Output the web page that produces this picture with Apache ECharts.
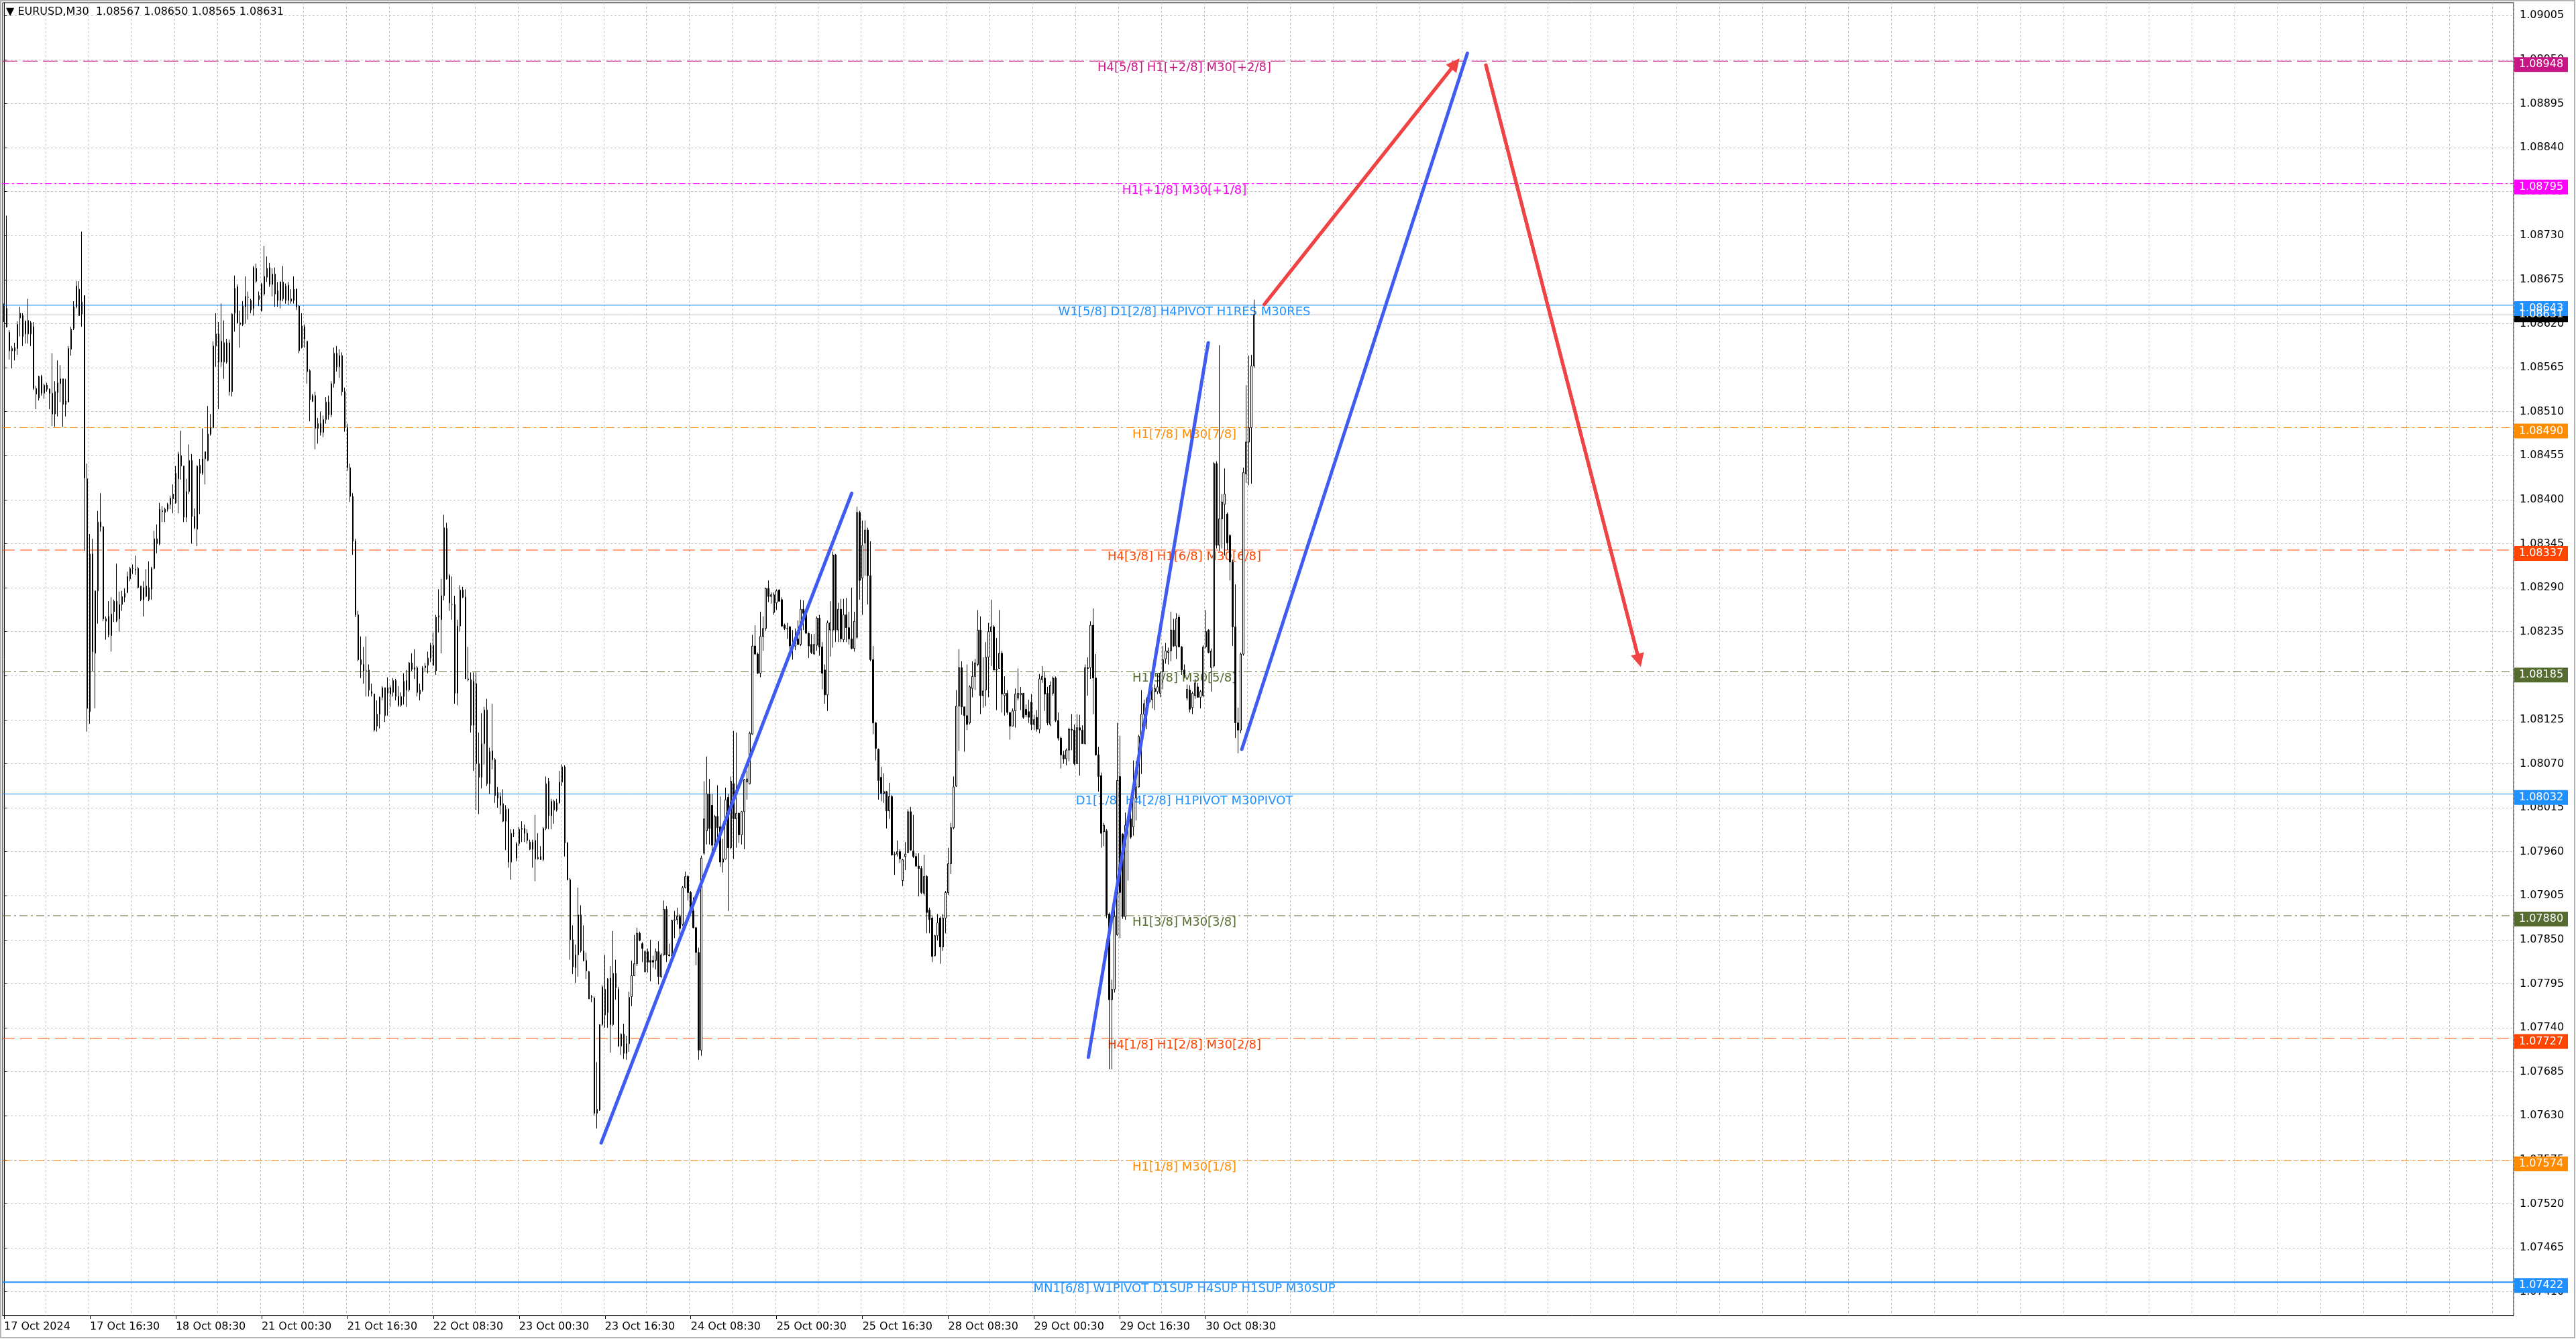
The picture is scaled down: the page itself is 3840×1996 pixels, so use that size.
<!DOCTYPE html>
<html>
<head>
<meta charset="utf-8">
<title>EURUSD,M30</title>
<script src="https://cdn.jsdelivr.net/npm/echarts@6/dist/echarts.min.js"></script>
<style>
html, body { margin: 0; padding: 0; background: #fff; }
#main { width: 3840px; height: 1996px; }
</style>
</head>
<body>
<div id="main"></div>
<script>
// prices are stored in points (0.00001) above 1.08000, bars as [open, high, low, close]
const BASE = 1.08;
const POINT = 0.00001;

const oct17 = [
  [630,645,622,639],[639,755,615,616],[609,612,575,586],[586,592,564,589],[586,596,574,590],[589,623,581,619],
  [627,641,604,633],[630,633,592,604],[607,624,595,623],[624,651,595,607],[607,623,592,621],[616,622,537,539],
  [539,542,513,532],[527,555,524,554],[554,556,530,533],[533,545,526,543],[543,546,535,538],[538,539,513,533],
  [507,583,492,533],[535,548,491,507],[534,574,504,546],[545,568,522,551],[551,551,491,519],[519,551,504,523],
  [522,592,522,589],[588,616,580,613],[614,648,612,641],[641,673,639,667],[663,673,630,630],[632,735,616,647],
  [655,655,336,427],[426,445,110,139],[135,357,120,332],[332,351,186,210],[208,286,139,286],[286,386,245,372],
  [372,408,360,366],[366,367,248,251],[251,254,225,248],[254,273,228,231],[230,278,210,257],[260,275,247,273],
  [273,320,247,249],[251,285,235,269],[269,286,261,279],[278,289,272,283],[284,310,283,304]
];
const oct18 = [
  [301,316,298,314],[314,319,307,314],[313,330,306,312],[314,316,289,290],[292,292,273,275],[275,298,254,290],
  [292,313,278,279],[275,323,273,290],[288,316,275,314],[314,361,313,351],[351,369,333,345],[345,396,343,388],
  [386,392,372,385],[384,390,372,388],[388,396,385,394],[394,405,388,402],[407,419,383,401],[396,442,395,433],
  [426,460,383,457],[455,486,425,442],[442,442,372,378],[378,426,372,410],[410,469,407,449],[449,457,345,379],
  [379,389,363,365],[363,443,342,442],[443,451,382,433],[433,489,431,451],[451,460,419,460],[449,517,448,482],
  [482,507,480,490],[490,598,489,592],[592,633,566,607],[607,622,513,572],[572,645,566,598],[596,624,551,572],
  [572,601,570,596],[596,600,530,535],[535,633,529,632],[633,680,610,664],[666,669,620,621],[621,636,590,619],
  [619,648,617,642],[641,679,620,654],[653,660,625,653],[649,651,633,637],[639,692,630,690],[689,695,671,673]
];
const oct21 = [
  [650,660,642,655],[636,671,635,669],[657,717,655,679],[678,704,672,689],[690,696,666,669],[669,689,654,682],
  [682,690,641,657],[661,672,641,649],[649,673,639,672],[672,692,648,651],[649,670,645,667],[668,672,643,649],
  [648,663,645,651],[649,679,645,663],[663,664,637,641],[642,643,583,586],[590,633,589,617],[616,619,590,601],
  [598,598,545,560],[561,563,498,525],[523,532,522,530],[530,535,463,489],[489,502,470,495],[495,510,480,484],
  [484,505,478,500],[500,528,495,522],[522,530,500,506],[506,548,503,545],[545,590,540,583],[583,592,560,566],
  [566,588,552,580],[580,584,530,535],[535,540,485,490],[490,495,436,440],[440,445,397,404],[404,408,331,348],
  [348,351,253,256],[256,261,198,200],[200,229,177,194],[194,216,170,186],[186,229,154,186],[187,194,154,162],
  [160,170,154,158],[157,157,110,112],[117,149,110,132],[132,154,114,153],[153,167,149,165],[165,165,122,130]
];
const oct22 = [
  [158,178,130,165],[165,168,141,157],[159,177,154,174],[174,176,149,154],[154,167,141,143],[143,159,141,154],
  [154,183,144,173],[174,187,141,162],[162,197,160,196],[196,208,186,188],[188,213,176,190],[190,192,154,159],
  [157,170,149,162],[162,192,160,190],[190,196,186,192],[193,210,183,202],[202,221,197,218],[218,234,192,193],
  [186,256,181,253],[253,288,234,255],[250,301,208,280],[280,381,274,365],[364,371,300,301],[305,307,261,271],
  [269,304,250,269],[269,280,145,158],[158,250,143,242],[242,293,235,287],[287,291,277,278],[278,288,176,176],
  [176,216,173,175],[175,184,109,118],[118,184,61,173],[170,184,12,70],[70,109,7,53],[53,133,39,95],
  [95,141,69,137],[137,151,42,45],[45,90,32,85],[86,145,63,75],[75,77,21,30],[34,41,15,27],
  [29,34,7,18],[20,38,-3,-2],[-2,18,-38,13],[13,14,-60,-53],[-53,-12,-75,-17],[-17,-12,-22,-17]
];
const oct23 = [
  [-48,-28,-52,-30],[-30,-9,-33,-12],[-12,-2,-28,-11],[-11,-6,-28,-17],[-17,-12,-30,-26],[-28,-25,-38,-37],
  [-37,-25,-60,-28],[-26,6,-77,-49],[-49,-17,-50,-47],[-46,-33,-50,-50],[-50,-9,-52,-11],[-11,54,-13,45],
  [48,52,-12,5],[5,26,-12,23],[23,25,-5,12],[12,26,10,21],[21,61,20,47],[47,69,42,66],
  [66,68,-46,-29],[-29,-28,-76,-75],[-75,-73,-175,-150],[-150,-132,-193,-184],[-185,-156,-204,-169],[-169,-85,-196,-119],
  [-119,-107,-166,-164],[-164,-132,-177,-176],[-176,-166,-199,-189],[-190,-189,-224,-224],[-221,-219,-228,-222],[-223,-221,-370,-367],
  [-367,-303,-386,-362],[-363,-257,-364,-256],[-256,-207,-258,-209],[-212,-169,-260,-244],[-241,-198,-260,-199],[-198,-183,-291,-256],
  [-256,-139,-258,-192],[-192,-175,-225,-210],[-212,-209,-284,-283],[-283,-267,-294,-268],[-268,-255,-299,-292],[-292,-270,-300,-280],
  [-280,-215,-290,-222],[-221,-176,-233,-195],[-195,-144,-195,-180],[-180,-135,-183,-142],[-142,-140,-152,-151],[-155,-153,-178,-161]
];
const oct24 = [
  [-190,-163,-191,-165],[-165,-161,-191,-178],[-176,-150,-202,-178],[-176,-170,-185,-178],[-176,-161,-187,-165],[-165,-152,-206,-196],
  [-196,-167,-198,-169],[-169,-101,-170,-112],[-112,-108,-178,-169],[-169,-155,-171,-170],[-170,-125,-175,-126],[-126,-114,-148,-125],
  [-125,-110,-131,-121],[-121,-118,-148,-136],[-131,-83,-133,-85],[-85,-65,-86,-71],[-71,-69,-101,-91],[-91,-89,-118,-115],
  [-114,-97,-136,-135],[-135,-134,-182,-166],[-166,-160,-300,-288],[-288,-45,-295,-48],[-42,48,-44,1],[-14,79,-31,32],
  [32,51,-31,-11],[18,32,-44,-32],[-32,6,-33,4],[4,43,-29,-10],[-9,29,-59,-53],[-53,-24,-66,-49],
  [-49,40,-50,25],[28,32,-114,-35],[-35,54,-37,48],[45,111,-49,1],[1,109,-35,8],[8,9,-29,-19],
  [-19,11,-31,10],[10,51,-37,50],[47,61,25,51],[45,110,44,108],[107,231,106,217],[217,243,206,207],
  [207,209,182,183],[183,260,178,229],[229,254,211,239],[239,290,236,289],[289,299,272,279],[279,284,270,281]
];
const oct25 = [
  [259,284,256,281],[271,288,262,286],[287,288,273,273],[275,278,241,242],[243,245,237,239],[239,246,226,239],
  [241,242,212,217],[217,237,200,218],[217,239,212,226],[226,249,219,219],[219,275,217,263],[263,274,237,258],
  [258,259,232,233],[233,234,202,217],[219,232,207,209],[207,232,206,219],[218,254,211,252],[252,256,205,216],
  [216,222,163,183],[187,194,145,156],[156,249,136,246],[237,273,204,246],[237,335,215,331],[331,332,222,237],
  [237,271,222,263],[263,276,222,226],[225,276,222,256],[256,277,222,240],[240,260,219,226],[226,290,213,214],
  [214,260,210,248],[228,391,226,384],[384,386,275,299],[302,374,256,343],[346,374,305,362],[362,365,269,305],
  [305,348,198,200],[200,217,107,121],[121,122,74,89],[88,89,25,49],[53,66,23,33],[33,58,21,35],
  [35,36,-11,11],[11,46,1,29],[29,31,-45,-44],[-44,-40,-69,-43],[-43,-26,-46,-40],[-40,-37,-54,-49]
];
const oct28 = [
  [-76,-49,-83,-50],[-46,-28,-63,-43],[-41,13,-42,10],[10,16,-39,-38],[-39,6,-48,-46],[-46,-42,-59,-58],
  [-58,-42,-96,-61],[-61,-58,-93,-91],[-92,-44,-95,-71],[-71,-69,-142,-116],[-113,-110,-142,-125],[-123,-121,-178,-171],
  [-170,-144,-171,-145],[-145,-118,-151,-129],[-123,-121,-180,-159],[-159,-118,-164,-123],[-123,-89,-142,-91],[-91,-35,-94,-55],
  [-55,-4,-68,-10],[-10,54,-12,41],[42,162,41,142],[142,213,86,190],[190,198,131,141],[141,141,85,130],
  [130,194,112,119],[121,168,119,166],[164,198,153,179],[179,201,162,196],[194,262,192,237],[237,254,132,155],
  [155,203,140,161],[162,222,142,203],[203,246,153,235],[235,275,192,241],[241,243,187,187],[188,227,137,187],
  [189,262,189,208],[208,211,134,157],[155,179,130,158],[158,162,131,134],[134,134,100,117],[117,139,117,136],
  [136,164,115,157],[152,189,149,158],[156,166,137,158],[158,158,126,128],[138,144,128,131],[135,150,121,128]
];
const oct29 = [
  [147,157,112,119],[119,131,112,125],[128,137,110,113],[113,182,108,176],[175,192,171,179],[177,185,136,157],
  [158,166,118,121],[119,173,117,168],[158,179,155,177],[177,179,122,124],[124,134,99,102],[102,104,64,81],
  [81,86,70,76],[76,89,68,87],[87,115,73,113],[113,132,87,112],[112,119,68,70],[70,132,70,115],
  [115,131,55,112],[112,118,95,95],[95,194,94,190],[189,203,155,190],[190,248,176,243],[243,264,132,177],
  [177,207,80,81],[81,91,35,54],[55,59,-35,-17],[-15,-4,-33,-7],[-14,-12,-123,-119],[-118,-116,-312,-225],
  [-225,-200,-312,-212],[-212,-91,-216,-121],[-144,121,-145,49],[54,105,-148,-91],[-18,-17,-124,-121],[-121,9,-125,-7],
  [-7,3,-76,1],[1,7,-24,-22],[-9,74,-20,27],[27,73,-1,41],[41,106,40,104],[104,162,57,132],
  [132,150,113,145],[141,153,113,151],[153,157,147,147],[150,166,139,162],[160,169,137,164],[160,182,157,166]
];
const oct30 = [
  [158,185,153,183],[185,217,163,200],[201,221,195,211],[209,215,194,211],[211,260,198,237],[237,251,216,217],
  [217,258,201,251],[253,256,216,216],[216,217,181,187],[187,194,177,182],[152,169,149,163],[162,168,134,138],
  [140,160,132,158],[155,176,151,171],[166,171,153,153],[153,162,139,160],[155,218,153,216],[216,262,214,235],
  [237,238,208,209],[190,214,160,211],[192,447,190,445],[445,448,339,343],[343,593,336,376],[376,407,339,397],
  [394,439,330,407],[382,384,337,346],[355,357,299,322],[322,325,217,241],[241,294,102,121],[121,140,83,112],
  [112,209,108,207],[207,440,205,434],[432,543,421,472],[472,580,418,490],[490,581,420,567],[567,650,565,631]
];

// one label every 32 bars (16 hours of M30)
const timeLabels = ['17 Oct 2024', '17 Oct 16:30', '18 Oct 08:30', '21 Oct 00:30', '21 Oct 16:30', '22 Oct 08:30',
  '23 Oct 00:30', '23 Oct 16:30', '24 Oct 08:30', '25 Oct 00:30', '25 Oct 16:30', '28 Oct 08:30',
  '29 Oct 00:30', '29 Oct 16:30', '30 Oct 08:30'];

const priceTicks = [1.07410, 1.07465, 1.07520, 1.07575, 1.07630, 1.07685, 1.07740, 1.07795, 1.07850, 1.07905,
  1.07960, 1.08015, 1.08070, 1.08125, 1.08180, 1.08235, 1.08290, 1.08345, 1.08400, 1.08455,
  1.08510, 1.08565, 1.08620, 1.08675, 1.08730, 1.08785, 1.08840, 1.08895, 1.08950, 1.09005];

const levelPrices = [1.08948, 1.08795, 1.08643, 1.08490, 1.08337, 1.08185, 1.08032, 1.07880, 1.07727, 1.07574, 1.07422];
const levelNames = [
  'H4[5/8] H1[+2/8] M30[+2/8]',
  'H1[+1/8] M30[+1/8]',
  'W1[5/8] D1[2/8] H4PIVOT H1RES M30RES',
  'H1[7/8] M30[7/8]',
  'H4[3/8] H1[6/8] M30[6/8]',
  'H1[5/8] M30[5/8]',
  'D1[1/8] H4[2/8] H1PIVOT M30PIVOT',
  'H1[3/8] M30[3/8]',
  'H4[1/8] H1[2/8] M30[2/8]',
  'H1[1/8] M30[1/8]',
  'MN1[6/8] W1PIVOT D1SUP H4SUP H1SUP M30SUP'
];
const levelColors = ['#C71585', '#FF00FF', '#1E90FF', '#FF8C00', '#FF4500', '#556B2F', '#1E90FF', '#556B2F', '#FF4500', '#FF8C00', '#1E90FF'];
const levelDash = [[22, 8], [10, 4, 3, 4], 'solid', [12, 5, 3, 5], [18, 8], [12, 5, 3, 5], 'solid', [12, 5, 3, 5], [18, 8], [12, 5, 3, 5], 'solid'];
const levelWidth = [1, 1, 1, 1, 1, 1, 1, 1, 1, 1, 2];

const bidPrice = 1.08631;

// hand drawn lines: [[bar, price], [bar, price]]
const blueLines = [
  [[222.6, 1.07596], [316.0, 1.08408]],
  [[404.2, 1.07703], [448.9, 1.08596]],
  [[461.4, 1.08088], [545.5, 1.08958]]
];
const redArrows = [
  [[469.8, 1.08644], [541.0, 1.08945]],
  [[552.4, 1.08943], [609.5, 1.08199]]
];

const SLOT_COUNT = 936;
const LEVEL_TEXT_SLOT = 440;
const PRICE_MIN = 1.073803;
const PRICE_MAX = 1.090211;
const FONT = 'DejaVu Sans';

const bars = [].concat(oct17, oct18, oct21, oct22, oct23, oct24, oct25, oct28, oct29, oct30);
const toPrice = (v) => +(BASE + v * POINT).toFixed(5);
// echarts order: open, close, low, high
const candles = bars.map(b => [toPrice(b[0]), toPrice(b[3]), toPrice(b[2]), toPrice(b[1])]);
const last = bars[bars.length - 1].map(toPrice);

const slots = [];
for (let i = 0; i < SLOT_COUNT; i++) slots.push(String(i));

var chartDom = document.getElementById('main');
var myChart = echarts.init(chartDom);
var option;

const series = [];

levelPrices.forEach(function (p, k) {
  series.push({
    type: 'line',
    name: levelNames[k],
    xAxisIndex: 1,
    data: [[-0.5, p], [SLOT_COUNT - 0.5, p]],
    symbol: 'none',
    silent: true,
    lineStyle: { color: levelColors[k], width: levelWidth[k], type: levelDash[k], opacity: 1 },
    z: 1
  });
});

series.push({
  type: 'scatter',
  name: 'level text',
  xAxisIndex: 1,
  symbolSize: 1,
  itemStyle: { color: 'rgba(0,0,0,0)', opacity: 1 },
  silent: true,
  z: 1,
  label: { show: true, position: 'bottom', distance: 1, fontSize: 18, fontFamily: FONT, opacity: 1 },
  data: levelPrices.map(function (p, k) {
    return { value: [LEVEL_TEXT_SLOT, p], label: { formatter: levelNames[k], color: levelColors[k] } };
  })
});

series.push({
  type: 'line',
  name: 'bid',
  xAxisIndex: 1,
  data: [[-0.5, bidPrice], [SLOT_COUNT - 0.5, bidPrice]],
  symbol: 'none',
  silent: true,
  lineStyle: { color: '#C0C0C0', width: 1, type: 'solid' },
  z: 1
});

series.push({
  type: 'candlestick',
  name: 'EURUSD,M30',
  data: candles,
  barWidth: 2,
  silent: true,
  itemStyle: {
    color: '#FFFFFF',
    color0: '#000000',
    borderColor: '#000000',
    borderColor0: '#000000',
    borderWidth: 1
  },
  z: 3
});

blueLines.forEach(function (seg) {
  series.push({
    type: 'line',
    xAxisIndex: 1,
    data: seg,
    symbol: 'none',
    silent: true,
    lineStyle: { color: '#3F5BF2', width: 5, cap: 'round' },
    z: 4
  });
});

redArrows.forEach(function (seg) {
  series.push({
    type: 'line',
    xAxisIndex: 1,
    data: seg,
    symbol: 'none',
    silent: true,
    lineStyle: { color: '#F04444', width: 5, cap: 'round' },
    z: 4,
    markLine: {
      silent: true,
      animation: false,
      label: { show: false },
      symbol: ['none', 'triangle'],
      symbolSize: 20,
      lineStyle: { color: '#F04444', width: 5, type: 'solid', cap: 'round' },
      itemStyle: { color: '#F04444' },
      data: [[{ coord: seg[0] }, { coord: seg[1] }]]
    }
  });
});

// price tags on the right scale
const tagStyle = {
  type: 'scatter',
  xAxisIndex: 1,
  symbol: 'rect',
  symbolSize: [80, 22],
  symbolOffset: [41, 5],
  clip: false,
  silent: true,
  z: 6,
  label: { show: true, position: 'inside', color: '#FFFFFF', fontSize: 16, fontFamily: FONT, opacity: 1 }
};
series.push(Object.assign({}, tagStyle, {
  name: 'bid tag',
  symbolOffset: [41, 0],
  data: [{ value: [SLOT_COUNT - 0.5, bidPrice], itemStyle: { color: '#000000', opacity: 1 }, label: { formatter: bidPrice.toFixed(5) } }]
}));
series.push(Object.assign({}, tagStyle, {
  name: 'level tags',
  data: levelPrices.map(function (p, k) {
    return { value: [SLOT_COUNT - 0.5, p], itemStyle: { color: levelColors[k], opacity: 1 }, label: { formatter: p.toFixed(5) } };
  })
}));

option = {
  animation: false,
  backgroundColor: '#FFFFFF',
  textStyle: { fontFamily: FONT },
  title: {
    text: '\u25BC EURUSD,M30  ' + [last[0], last[1], last[2], last[3]].map(v => v.toFixed(5)).join(' '),
    left: 9,
    top: 10,
    padding: 0,
    textStyle: { fontSize: 16, fontWeight: 'normal', color: '#000000', fontFamily: FONT }
  },
  graphic: [{
    type: 'rect',
    silent: true,
    shape: { x: 1, y: 1, width: 3837, height: 1993 },
    style: { fill: 'none', stroke: '#B4B4B4', lineWidth: 2 }
  }],
  grid: {
    left: 4, right: 93, top: 4, bottom: 35,
    show: true, borderColor: '#000000', borderWidth: 1,
    containLabel: false,
    outerBoundsMode: 'none'
  },
  xAxis: [{
    type: 'category',
    data: slots,
    boundaryGap: true,
    axisLine: { show: true, lineStyle: { color: '#000000', width: 1 } },
    axisTick: {
      show: true, length: 5, alignWithLabel: true,
      interval: (i) => i % 32 === 0 && i / 32 < timeLabels.length,
      lineStyle: { color: '#000000' }
    },
    axisLabel: {
      show: true,
      interval: (i) => i % 32 === 0 && i / 32 < timeLabels.length,
      formatter: (v, i) => timeLabels[Number(v) / 32] || '',
      align: 'left',
      margin: 9,
      color: '#000000',
      fontSize: 16,
      fontFamily: FONT
    },
    splitLine: {
      show: true,
      interval: (i) => i % 16 === 0 && i > 0,
      lineStyle: { color: '#C0C0C0', width: 1, type: [3, 3] }
    }
  }, {
    type: 'value',
    min: -0.5,
    max: SLOT_COUNT - 0.5,
    show: false,
    splitLine: { show: false }
  }],
  yAxis: {
    type: 'value',
    position: 'right',
    min: PRICE_MIN,
    max: PRICE_MAX,
    axisLine: { show: true, lineStyle: { color: '#000000', width: 1 } },
    axisTick: { show: true, length: 4, customValues: priceTicks, lineStyle: { color: '#000000' } },
    axisLabel: {
      show: true,
      customValues: priceTicks,
      formatter: (v) => Number(v).toFixed(5),
      margin: 9,
      color: '#000000',
      fontSize: 16,
      fontFamily: FONT
    },
    splitLine: { show: true, lineStyle: { color: '#C0C0C0', width: 1, type: [3, 3] } }
  },
  series: series
};

option && myChart.setOption(option);
</script>
</body>
</html>
